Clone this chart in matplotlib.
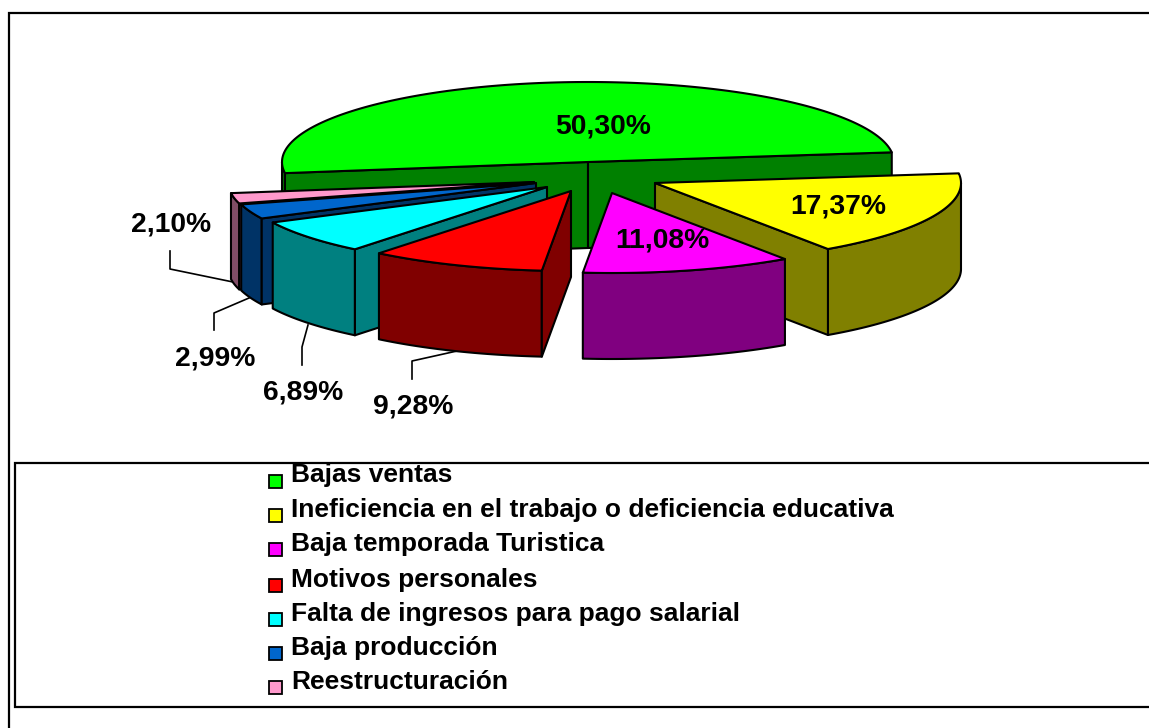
import numpy as np
import matplotlib
matplotlib.use("Agg")
import matplotlib.pyplot as plt
from matplotlib.patches import Polygon, Rectangle

categories = ["Bajas ventas", "Ineficiencia en el trabajo o deficiencia educativa",
              "Baja temporada Turistica", "Motivos personales",
              "Falta de ingresos para pago salarial", "Baja producción", "Reestructuración"]
values = [50.30, 17.37, 11.08, 9.28, 6.89, 2.99, 2.10]
value_labels = ["50,30%", "17,37%", "11,08%", "9,28%", "6,89%", "2,99%", "2,10%"]
top_colors = ["#00FF00", "#FFFF00", "#FF00FF", "#FF0000", "#00FFFF", "#0066CC", "#FF99CC"]
side_colors = ["#008000", "#808000", "#800080", "#800000", "#008080", "#003366", "#804D66"]

# pie geometry (pixels)
CX, CY, RX, RY, DEPTH = 588, 162, 306, 80, 86
START = 188.0
explode_dx = [0, 67, 24, -17, -41, -52, -54]
explode_dy = [0, 21, 31, 29, 25, 21, 20]
draw_order = [0, 6, 5, 4, 3, 1, 2]
label_xy = [(603, 127), (838, 207), (662, 241), (413, 407), (303, 392), (215, 358), (171, 225)]
leaders = [None, None, None,
           [(412, 379), (412, 361), (457, 351)],
           [(302, 365), (302, 347), (308, 325)],
           [(214, 330), (214, 313), (249, 298)],
           [(170, 251), (170, 269), (233, 282)]]
legend_marker_y = [481, 515, 549, 585, 619, 653, 687]
legend_text_y = [482, 517, 551, 587, 621, 655, 689]

W, H = 1149, 728
fig = plt.figure(figsize=(W / 100, H / 100), dpi=100, facecolor="white")
ax = fig.add_axes([0, 0, 1, 1])
ax.set_xlim(0, W)
ax.set_ylim(H, 0)
ax.axis("off")
FONT = "Liberation Sans"
LW = 1.5

# outer frame and legend box (open to the right, as in the source)
ax.plot([9, 9, W], [H, 13, 13], color="k", lw=1.6, solid_joinstyle="miter")
ax.plot([W, 15, 15, W], [463, 463, 707, 707], color="k", lw=1.6, solid_joinstyle="miter")

fractions = np.array(values) / sum(values) * 360
ends = START - np.cumsum(fractions)
starts = ends + fractions


def poly(pts, color, z):
    ax.add_patch(Polygon(pts, closed=True, facecolor=color, edgecolor="k", lw=LW,
                         joinstyle="round", zorder=z))


z = 2
for i in draw_order:
    tx, ty = CX + explode_dx[i], CY + explode_dy[i]
    a = np.radians(np.linspace(starts[i], ends[i], 160))
    arc = np.column_stack([tx + RX * np.cos(a), ty - RY * np.sin(a)])
    tip = np.array([tx, ty])
    down = np.array([0, DEPTH])
    first, last = arc[0], arc[-1]
    front = arc[np.sin(a) <= 0]
    # rim wall, then only those cut walls whose outward normal faces the viewer
    if len(front):
        poly(np.vstack([front, front[::-1] + down]), side_colors[i], z)
    if np.sin(np.radians(starts[i] + 90)) < 0:
        poly([first, tip, tip + down, first + down], side_colors[i], z)
    if np.sin(np.radians(ends[i] - 90)) < 0:
        poly([last, tip, tip + down, last + down], side_colors[i], z)
    poly(np.vstack([tip, arc]), top_colors[i], z)
    z += 1

for i, (x, y) in enumerate(label_xy):
    ax.text(x, y, value_labels[i], ha="center", va="center", family=FONT,
            fontweight="bold", fontsize=20.3, color="k", zorder=20)
    if leaders[i]:
        xs, ys = zip(*leaders[i])
        ax.plot(xs, ys, color="k", lw=1.2, zorder=1)

for i, name in enumerate(categories):
    ax.add_patch(Rectangle((268.5, legend_marker_y[i] - 6.5), 13, 13, facecolor=top_colors[i],
                           edgecolor="k", lw=1.3, zorder=5))
    ax.text(291, legend_text_y[i], name, ha="left", va="baseline", family=FONT,
            fontweight="bold", fontsize=19.0, color="k", zorder=5)

fig.savefig("out.png", dpi=100, facecolor="white")
